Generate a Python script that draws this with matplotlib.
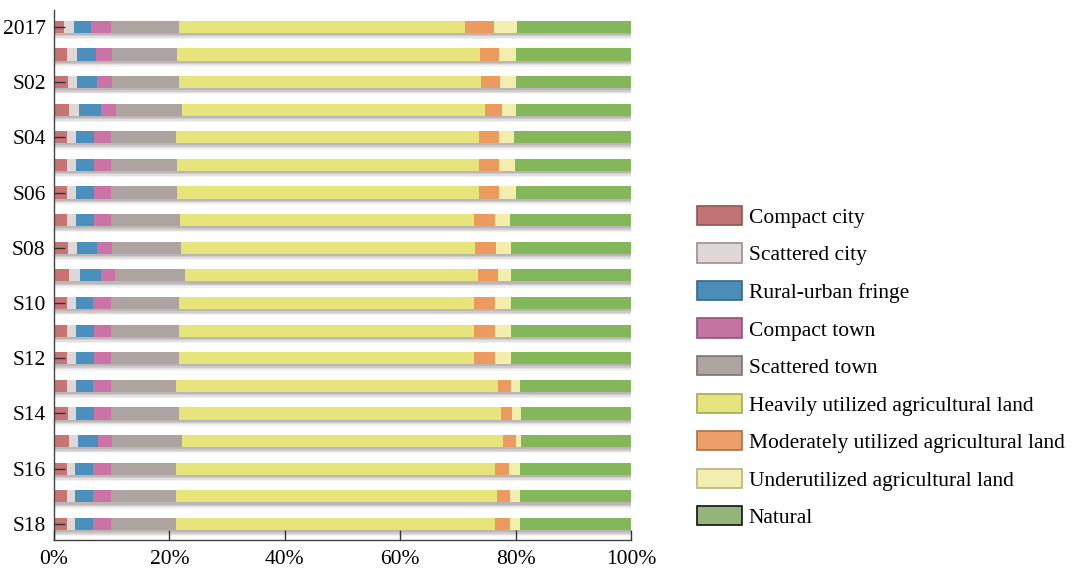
import matplotlib
matplotlib.use("Agg")
import matplotlib.pyplot as plt
import matplotlib.patheffects as pe
from matplotlib.patches import Patch
import numpy as np

plt.rcParams['font.family'] = ['Liberation Serif', 'DejaVu Serif']

scenarios = ["2017"] + [f"S{i:02d}" for i in range(1, 19)]
tick_labels = ["2017", "S02", "S04", "S06", "S08", "S10", "S12", "S14", "S16", "S18"]

categories = ["Compact city", "Scattered city", "Rural-urban fringe", "Compact town",
              "Scattered town", "Heavily utilized agricultural land",
              "Moderately utilized agricultural land", "Underutilized agricultural land",
              "Natural"]

compact_city   = [1.7, 2.3, 2.5, 2.6, 2.3, 2.3, 2.3, 2.3, 2.5, 2.6, 2.3, 2.3, 2.3, 2.3, 2.5, 2.6, 2.3, 2.3, 2.3]
scattered_city = [1.7, 1.7, 1.5, 1.7, 1.5, 1.5, 1.5, 1.6, 1.5, 1.9, 1.5, 1.5, 1.5, 1.5, 1.3, 1.6, 1.4, 1.4, 1.4]
rural_urban    = [3.0, 3.2, 3.4, 3.8, 3.2, 3.2, 3.2, 3.1, 3.4, 3.6, 3.0, 3.2, 3.2, 3.0, 3.2, 3.4, 3.1, 3.1, 3.1]
compact_town   = [3.4, 2.9, 2.7, 2.7, 2.9, 2.9, 2.9, 2.9, 2.7, 2.4, 3.1, 2.9, 2.9, 3.0, 2.9, 2.5, 3.0, 3.0, 3.0]
scattered_town = [11.9, 11.2, 11.5, 11.4, 11.3, 11.4, 11.4, 12.0, 12.0, 12.2, 11.8, 11.8, 11.8, 11.4, 11.7, 12.1, 11.3, 11.4, 11.4]
heavily_agri   = [49.6, 52.6, 52.5, 52.5, 52.5, 52.4, 52.4, 50.9, 50.8, 50.8, 51.1, 51.1, 51.1, 55.7, 55.8, 55.6, 55.4, 55.6, 55.3]
moderate_agri  = [5.0, 3.2, 3.2, 2.9, 3.4, 3.4, 3.4, 3.7, 3.7, 3.4, 3.7, 3.7, 3.7, 2.3, 2.0, 2.3, 2.3, 2.2, 2.5]
under_agri     = [4.0, 2.9, 2.7, 2.5, 2.7, 2.8, 2.9, 2.6, 2.7, 2.4, 2.7, 2.7, 2.7, 1.5, 1.5, 0.9, 1.9, 1.7, 1.7]
natural        = [19.7, 20.0, 20.0, 19.9, 20.2, 20.1, 20.0, 20.9, 20.7, 20.7, 20.8, 20.8, 20.8, 19.3, 19.1, 19.0, 19.3, 19.3, 19.3]

series = [compact_city, scattered_city, rural_urban, compact_town, scattered_town,
          heavily_agri, moderate_agri, under_agri, natural]

bar_colors = ["#C97474", "#E0D8D6", "#4B90BC", "#CB72A6", "#ADA3A1",
              "#E6E47A", "#EC9A5E", "#F3EEAE", "#84B65A"]
legend_faces = ["#C27474", "#E0D8D6", "#4B8CB8", "#C474A0", "#ADA3A1",
                "#E6E47C", "#EC9F66", "#F3EEB0", "#93B57C"]
legend_edges = ["#8E5555", "#9A8F8D", "#35688A", "#8E5475", "#7C7270",
                "#A9A65A", "#A9714A", "#B9B27E", "#111111"]

fig = plt.figure(figsize=(10.73, 5.69), dpi=100)
ax = fig.add_axes([0.0503, 0.051, 0.5377, 0.931])

y = np.arange(len(scenarios))
left = np.zeros(len(scenarios))
shadow = [pe.SimplePatchShadow(offset=(0, -d), shadow_rgbFace="#6e6262", alpha=a)
          for d, a in [(4.5, 0.08), (3.5, 0.12), (2.5, 0.16), (1.5, 0.2)]] + [pe.Normal()]
for vals, col in zip(series, bar_colors):
    v = np.array(vals)
    bars = ax.barh(y, v, left=left, height=0.44, color=col, edgecolor="none", zorder=2)
    for b in bars:
        b.set_path_effects(shadow)
    left += v

ax.set_xlim(0, 100)
ax.set_ylim(len(scenarios) - 0.42, -0.6)
ax.set_yticks(y[::2])
ax.set_yticklabels(tick_labels, fontsize=15.5)
ax.set_xticks([0, 20, 40, 60, 80, 100])
ax.set_xticklabels(["0%", "20%", "40%", "60%", "80%", "100%"], fontsize=15.5)
ax.tick_params(axis='y', direction='in', length=8, width=1.0, color="#333333", pad=6)
ax.tick_params(axis='x', direction='in', length=7, width=1.0, color="#333333", pad=7)
ax.spines['top'].set_visible(False)
ax.spines['right'].set_visible(False)
for s in ['left', 'bottom']:
    ax.spines[s].set_color("#444444")
    ax.spines[s].set_linewidth(1.0)
ax.set_axisbelow(False)

handles = [Patch(facecolor=f, edgecolor=e, linewidth=1.2) for f, e in zip(legend_faces, legend_edges)]
fig.legend(handles, categories, loc="upper left", bbox_to_anchor=(0.6496, 0.638),
           frameon=False, fontsize=15.5, handlelength=2.1, handleheight=1.0,
           labelspacing=0.72, handletextpad=0.3, borderaxespad=0, borderpad=0)

fig.savefig("out.png", dpi=100)
